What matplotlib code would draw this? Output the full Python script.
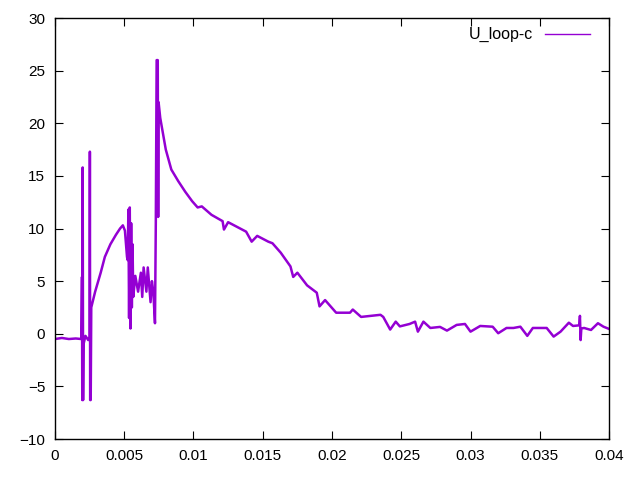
import matplotlib.pyplot as plt
from matplotlib.ticker import FormatStrFormatter

# values (time in s, voltage)
t = [0.0, 0.0005, 0.001, 0.0015, 0.0019, 0.00195, 0.00197, 0.00200, 0.00203,
     0.00206, 0.0022, 0.0024, 0.0025, 0.00252, 0.00254, 0.00258, 0.00262,
     0.0029, 0.0033, 0.0036, 0.0040, 0.0044, 0.0047, 0.0049, 0.00505,
     0.0052, 0.00525, 0.0053, 0.00535, 0.0054, 0.00545, 0.0055, 0.00555,
     0.0056, 0.00565, 0.0058, 0.0060, 0.0062, 0.0063, 0.0064, 0.0066,
     0.0067, 0.0069, 0.0070, 0.0071, 0.00722, 0.00728, 0.00734, 0.00742,
     0.00745, 0.00748, 0.0076, 0.0080, 0.0084, 0.0089, 0.0094, 0.0099,
     0.0103, 0.0106, 0.0113, 0.0121, 0.0122, 0.0125, 0.0138, 0.0142,
     0.0146, 0.0154, 0.0157, 0.0163, 0.0170, 0.0172, 0.0175, 0.0182,
     0.0189, 0.0191, 0.0195, 0.0201, 0.0203, 0.0213, 0.0215, 0.0221,
     0.0235, 0.0237, 0.0242, 0.0246, 0.0249, 0.0256, 0.0260, 0.0262,
     0.0266, 0.0271, 0.0278, 0.0283, 0.0290, 0.0296, 0.0300, 0.0307,
     0.0316, 0.0320, 0.0326, 0.0331, 0.0336, 0.0341, 0.0345, 0.0355,
     0.0360, 0.0365, 0.0371, 0.0374, 0.03785, 0.0379, 0.03795, 0.0380,
     0.0382, 0.0387, 0.0392, 0.0396, 0.0400]
u = [-0.5, -0.4, -0.5, -0.45, -0.5, 5.4, -6.3, 15.8, -6.3,
     -1.0, -0.2, -0.6, -0.3, 17.3, -6.3, -6.3, 2.5,
     4.0, 5.8, 7.3, 8.5, 9.4, 10.0, 10.3, 9.8,
     7.3, 7.0, 11.8, 1.5, 12.0, 0.5, 10.5, 2.5,
     8.5, 3.5, 5.5, 4.0, 5.8, 3.5, 6.3, 4.0,
     6.3, 3.0, 5.0, 4.0, 1.0, 10.6, 26.0, 26.0,
     11.1, 22.0, 20.5, 17.5, 15.6, 14.5, 13.5, 12.6,
     12.0, 12.1, 11.3, 10.7, 9.9, 10.6, 9.7, 8.75,
     9.3, 8.75, 8.6, 7.7, 6.4, 5.4, 5.8, 4.6,
     3.9, 2.6, 3.2, 2.3, 2.0, 2.0, 2.3, 1.6,
     1.8, 1.6, 0.4, 1.15, 0.7, 0.93, 1.15, 0.2,
     1.15, 0.55, 0.65, 0.3, 0.84, 0.93, 0.2, 0.74,
     0.67, 0.05, 0.55, 0.55, 0.67, -0.2, 0.55, 0.55,
     -0.27, 0.2, 1.05, 0.74, 0.8, 1.7, -0.6, 0.5,
     0.55, 0.36, 1.0, 0.67, 0.46]

plt.rcParams['font.family'] = ['Liberation Sans', 'DejaVu Sans']

fig = plt.figure(figsize=(6.4, 4.8), dpi=100)
ax = fig.add_axes([0.0859, 0.0854, 0.8657, 0.8771])

ax.plot(t, u, color='#9400d3', linewidth=1.8, label='U_loop-c')

ax.set_xlim(0, 0.04)
ax.set_ylim(-10, 30)
ax.set_xticks([0, 0.005, 0.01, 0.015, 0.02, 0.025, 0.03, 0.035, 0.04])
ax.set_yticks(range(-10, 31, 5))
ax.xaxis.set_major_formatter(FormatStrFormatter('%g'))
ax.tick_params(direction='in', top=True, right=True, length=6, labelsize=11,
               pad=7)
for s in ax.spines.values():
    s.set_linewidth(1)

leg = ax.legend(loc='upper right', bbox_to_anchor=(0.9765, 0.993), frameon=False,
                fontsize=11.5, handlelength=2.8, handletextpad=0.75,
                markerfirst=False, borderaxespad=0)
leg.get_lines()[0].set_linewidth(1)

fig.savefig('out.png', dpi=100)
